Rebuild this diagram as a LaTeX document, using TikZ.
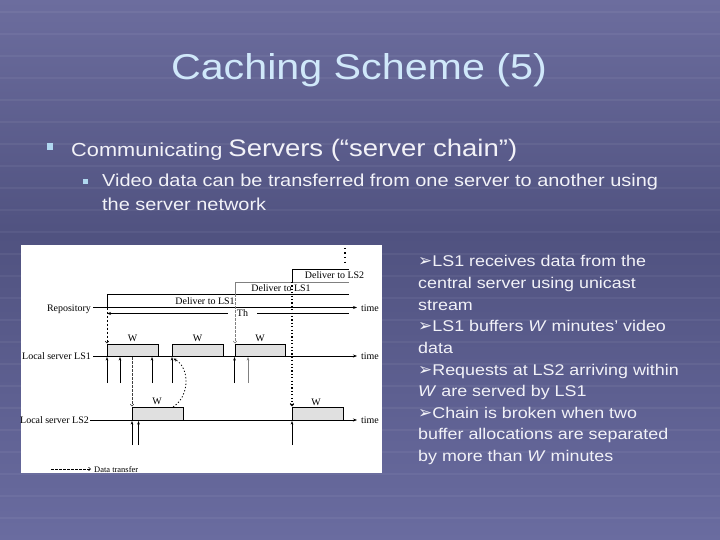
\documentclass[tikz,border=0pt]{standalone}
\usepackage{fontspec}
\setmainfont{Liberation Serif}
\newfontfamily\slidefont[FakeStretch=1.15]{Liberation Sans}
\newfontfamily\symfont{DejaVu Sans}
\usetikzlibrary{arrows.meta}
\definecolor{bgtop}{RGB}{108,109,158}
\definecolor{bgmid}{RGB}{80,82,128}
\definecolor{bgbot}{RGB}{106,108,160}
\definecolor{titlecol}{RGB}{208,232,250}
\definecolor{txtcol}{RGB}{242,242,248}
\definecolor{bulcol}{RGB}{176,216,240}
\newcommand\arrbul{{\symfont\fontsize{17}{19}\selectfont ➢}}
\begin{document}
\begin{tikzpicture}[x=1bp,y=-1bp,
  lbl/.style={font=\fontsize{10}{12}\selectfont, inner sep=0pt},
  slidetxt/.style={font=\slidefont, text=txtcol, inner sep=0pt, anchor=base west},
  righttxt/.style={slidetxt, font=\slidefont\fontsize{15.6}{19}\selectfont},
  axisline/.style={line width=0.8bp, -{Stealth[length=4bp,width=3bp]}},
  stepline/.style={line width=0.8bp},
  bufbox/.style={draw=black, line width=0.8bp, fill=gray!24},
  uparrow/.style={line width=0.9bp, -{Stealth[length=3.5bp,width=2.6bp]}},
  xfer/.style={line width=0.55bp, dash pattern=on 2.5bp off 1.5bp, -{Straight Barb[length=2bp,width=3.5bp]}},
  dotxfer/.style={line width=1.2bp, dash pattern=on 1.2bp off 2.2bp, -{Straight Barb[length=2bp,width=3.5bp]}},
]
\useasboundingbox (0,0) rectangle (720,540);
% slide background
\fill[top color=bgtop, bottom color=bgmid] (0,0) rectangle (720,236);
\fill[top color=bgmid, bottom color=bgbot] (0,235) rectangle (720,540);
\foreach \yy in {12,34,56,78,100,122,144,166,188,210,232,254,276,298,320,342,364,386,408,430,452,474,496,518} {
  \draw[white, opacity=0.05, line width=1.5bp] (0,\yy) -- (720,\yy);
}
% title and bullets
\node[slidetxt, anchor=base, text=titlecol, font=\slidefont\fontsize{36}{40}\selectfont] (title) at (359,80) {Caching Scheme (5)};
\fill[bulcol] (46.5,143.5) rectangle (53,150) node[coordinate] (b1) {};
\node[slidetxt] (main) at (71,157) {\fontsize{19}{23}\selectfont Communicating \fontsize{24}{28}\selectfont Servers (“server chain”)};
\fill[bulcol] (82.5,179) rectangle (87.5,184) node[coordinate] (b2) {};
\node[slidetxt, font=\slidefont\fontsize{17.4}{21}\selectfont] (sub1) at (102,187) {Video data can be transferred from one server to another using};
\node[slidetxt, font=\slidefont\fontsize{17.4}{21}\selectfont] (sub2) at (102,211) {the server network};
% right column
\node[righttxt] (r1) at (418,267) {\arrbul LS1 receives data from the};
\node[righttxt] (r2) at (418,288.6) {central server using unicast};
\node[righttxt] (r3) at (418,310.2) {stream};
\node[righttxt] (r4) at (418,331.8) {\arrbul LS1 buffers \textit{W} minutes’ video};
\node[righttxt] (r5) at (418,353.4) {data};
\node[righttxt] (r6) at (418,375) {\arrbul Requests at LS2 arriving within};
\node[righttxt] (r7) at (418,396.6) {\textit{W} are served by LS1};
\node[righttxt] (r8) at (418,418.2) {\arrbul Chain is broken when two};
\node[righttxt] (r9) at (418,439.8) {buffer allocations are separated};
\node[righttxt] (r10) at (418,461.4) {by more than \textit{W} minutes};
% diagram panel
\fill[white] (21,245) rectangle (382,473);
% axes
\node[lbl, anchor=base east] (repL) at (91,311) {Repository};
\node[lbl, anchor=base west] (repT) at (361,311) {time};
\draw[axisline] (93,307.5) -- (357,307.5);
% LS1 buffers
\draw[bufbox] (107,344) rectangle (158,356);
\draw[bufbox] (172,344) rectangle (223,356);
\draw[bufbox] (235,344) rectangle (285,356);
\node[lbl, anchor=base] (w1) at (132.5,341.5) {W};
\node[lbl, anchor=base] (w2) at (197.5,341.5) {W};
\node[lbl, anchor=base] (w3) at (260,341.5) {W};
% LS2 buffers
\draw[bufbox] (132,407) rectangle (183,420);
\draw[bufbox] (292,407) rectangle (343,420);
\node[lbl, anchor=base] (w4) at (157,404.5) {W};
\node[lbl, anchor=base] (w5) at (316,405.5) {W};
\node[lbl, anchor=base east] (ls1L) at (91,359.5) {Local server LS1};
\node[lbl, anchor=base west] (ls1T) at (361,359.5) {time};
\draw[axisline] (93,356) -- (357,356);
\node[lbl, anchor=base east] (ls2L) at (89,423.5) {Local server LS2};
\node[lbl, anchor=base west] (ls2T) at (361,423.5) {time};
\draw[axisline] (90,420) -- (357,420);
% delivery steps
\draw[stepline] (107,307.5) -- (107,294) -- (349,294);
\draw[stepline, draw=gray] (235,294) -- (235,282) -- (349,282);
\draw[stepline] (292,282) -- (292,269) -- (349,269);
\node[lbl, anchor=base] (d1) at (205,304.5) {Deliver to LS1};
\node[lbl, anchor=base] (d2) at (281,291.5) {Deliver to LS1};
\node[lbl, anchor=base] (d3) at (334.5,279) {Deliver to LS2};
\draw[line width=1.2bp, dash pattern=on 1.2bp off 3.3bp] (345,248) -- (345,264);
% Th
\node[lbl, inner xsep=9bp] (th) at (242.5,313.5) {Th};
\draw[line width=0.8bp, {Stealth[length=4bp,width=3bp]}-] (107,313.5) -- (th.west);
\draw[line width=0.8bp] (th.east) -- (349,313.5);
% data transfers
\draw[xfer] (107,307.5) -- (107,343.5);
\draw[xfer, draw=gray] (235,294) -- (235,343.5);
\draw[dotxfer] (292,282) -- (292,406.5);
\draw[xfer, draw=black!75] (132,357) -- (132,406.5);
\draw[line width=0.8bp, dash pattern=on 1.3bp off 2bp, -{Stealth[length=3.5bp,width=3bp]}] (173,407) .. controls (190,396) and (190,368) .. (173.5,358.5);
% request arrivals
\foreach \xx/\cc in {107/black,120/black,152/black,172/black,234.5/black,248/gray} {
  \draw[uparrow, draw=\cc] (\xx,383) -- (\xx,357);
}
\foreach \xx in {132,138.5,292} {
  \draw[uparrow] (\xx,445) -- (\xx,421);
}
% legend
\draw[xfer] (51,469) -- (91,469);
\node[lbl, anchor=base west, font=\fontsize{8.5}{10}\selectfont] (leg) at (94,472) {Data transfer};
\end{tikzpicture}
\end{document}
